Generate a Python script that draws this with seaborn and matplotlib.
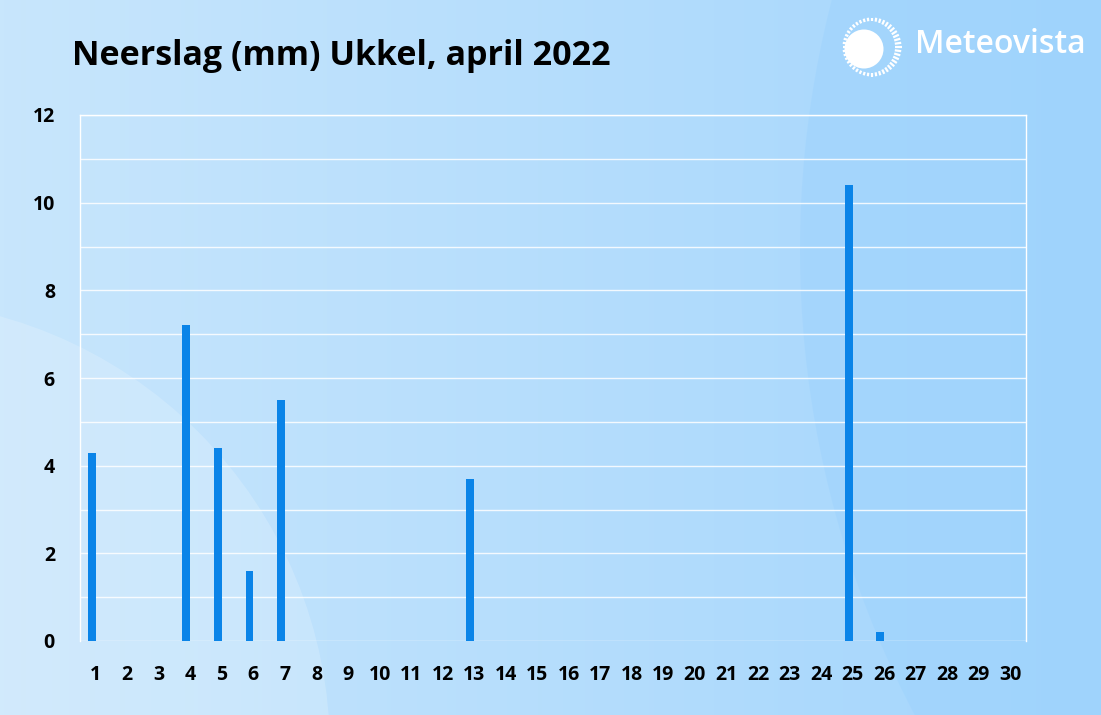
import numpy as np
import pandas as pd
import seaborn as sns
import matplotlib.pyplot as plt
from matplotlib.patches import Circle

# ---- data ----
days = [str(d) for d in range(1, 31)]
rain = [4.3, 0, 0, 7.2, 4.4, 1.6, 5.5, 0, 0, 0,
        0, 0, 3.7, 0, 0, 0, 0, 0, 0, 0,
        0, 0, 0, 0, 10.4, 0.2, 0, 0, 0, 0]
y_ticks = [0, 2, 4, 6, 8, 10, 12]
title = "Neerslag (mm) Ukkel, april 2022"
brand = "Meteovista"

sns.set_theme(style="white")
plt.rcParams['font.family'] = ['Open Sans', 'DejaVu Sans']

W, H = 1101, 715
fig = plt.figure(figsize=(W / 100, H / 100), dpi=100)

# ---- background ----
bg = fig.add_axes([0, 0, 1, 1], zorder=0)
grad = np.linspace(0, 1, 256)
c0 = np.array([200, 230, 252]) / 255
c1 = np.array([163, 213, 252]) / 255
img = c0[None, None, :] * (1 - grad[None, :, None]) + c1[None, None, :] * grad[None, :, None]
bg.imshow(img, extent=[0, W, H, 0], aspect='auto')
bg.add_patch(Circle((1800, 250), 1000, facecolor=(0.60, 0.82, 0.99), alpha=0.38, lw=0))
bg.add_patch(Circle((-120, 750), 450, facecolor='white', alpha=0.18, lw=0))
bg.set_xlim(0, W)
bg.set_ylim(H, 0)
bg.axis('off')

# logo: sun
bg.add_patch(Circle((864, 49), 19.5, facecolor='white', lw=0))
for ang in np.linspace(0, 2 * np.pi, 44, endpoint=False):
    ca, sa = np.cos(ang), np.sin(ang)
    r_out = 29.5
    r_in = 29.5 - (3.5 + 3.0 * max(ca, 0))
    bg.plot([872 + r_in * ca, 872 + r_out * ca], [47 - r_in * sa, 47 - r_out * sa],
            color='white', lw=1.6, solid_capstyle='butt')
bg.text(915, 53, brand, color='white', fontsize=23, va='baseline', ha='left',
        fontweight='semibold', family=['Open Sans', 'DejaVu Sans'])

# title
bg.text(72, 65, title, fontsize=24.5, fontweight='bold', color='black',
        va='baseline', ha='left', family=['Open Sans', 'DejaVu Sans'])

# ---- chart ----
ax = fig.add_axes([80 / W, 1 - 641 / H, (1026 - 80) / W, (641 - 115) / H], zorder=2)
ax.set_facecolor('none')

df = pd.DataFrame({
    'day': days * 2,
    'value': rain + [0] * len(rain),
    'series': ['a'] * len(days) + ['b'] * len(days),
})
sns.barplot(data=df, x='day', y='value', hue='series', hue_order=['a', 'b'],
            palette=['#0a84e8', '#0a84e8'], width=0.5, dodge=True, gap=0,
            linewidth=0, ax=ax, legend=False, errorbar=None, saturation=1)

ax.set_xlim(-0.5, 29.5)
ax.set_ylim(0, 12)
ax.set_yticks(np.arange(0, 13, 1))
ax.set_yticklabels([str(v) if v in y_ticks else '' for v in range(0, 13)])
ax.grid(axis='y', color='white', linewidth=1, alpha=0.85)
ax.grid(axis='x', visible=False)
ax.set_axisbelow(True)
for s in ['left', 'right', 'top']:
    ax.spines[s].set_visible(True)
    ax.spines[s].set_color('white')
    ax.spines[s].set_linewidth(1)
ax.spines['bottom'].set_visible(False)
ax.tick_params(axis='both', length=0, labelsize=14, colors='black')
ax.tick_params(axis='y', pad=18)
ax.tick_params(axis='x', pad=17)
for lab in ax.get_xticklabels() + ax.get_yticklabels():
    lab.set_fontweight('bold')
ax.set_xlabel('')
ax.set_ylabel('')

fig.savefig('out.png', dpi=100)
